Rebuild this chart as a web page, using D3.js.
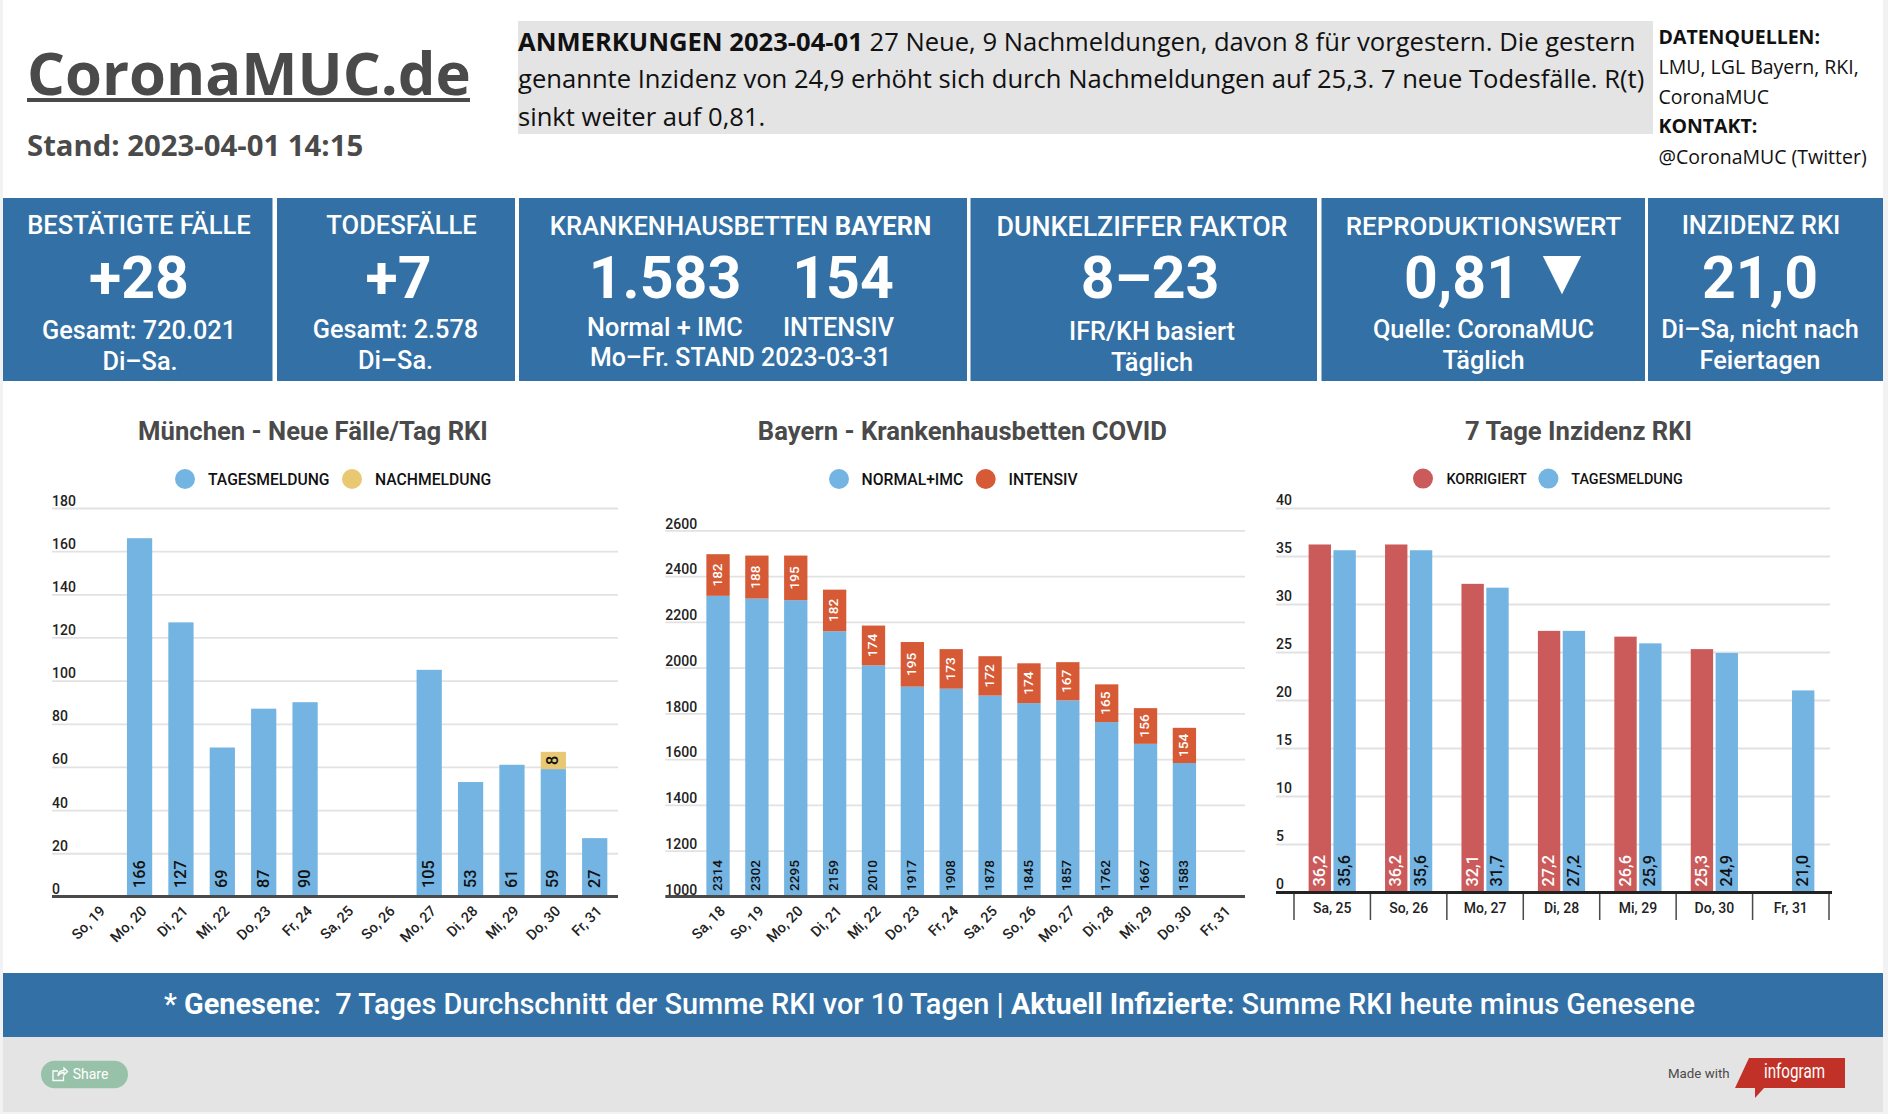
<!DOCTYPE html>
<html lang="de"><head><meta charset="utf-8"><title>CoronaMUC.de</title>
<script src="https://cdnjs.cloudflare.com/ajax/libs/d3/7.8.5/d3.min.js"></script>
<style>html,body{margin:0;padding:0;background:#f2f2f2;overflow:hidden}svg{display:block}text{font-family:Roboto,sans-serif}.os,.os tspan{font-family:"Open Sans",sans-serif}</style>
</head><body><div id="c"></div>
<script>
// ---- data ----
const muc_days = ["So, 19","Mo, 20","Di, 21","Mi, 22","Do, 23","Fr, 24","Sa, 25","So, 26","Mo, 27","Di, 28","Mi, 29","Do, 30","Fr, 31"];
const muc_tages = [null,166,127,69,87,90,null,null,105,53,61,59,27];
const muc_nach  = [null,null,null,null,null,null,null,null,null,null,null,8,null];
const muc_ticks = [0,20,40,60,80,100,120,140,160,180];
const kh_days = ["Sa, 18","So, 19","Mo, 20","Di, 21","Mi, 22","Do, 23","Fr, 24","Sa, 25","So, 26","Mo, 27","Di, 28","Mi, 29","Do, 30","Fr, 31"];
const kh_normal = [2314,2302,2295,2159,2010,1917,1908,1878,1845,1857,1762,1667,1583,null];
const kh_intensiv = [182,188,195,182,174,195,173,172,174,167,165,156,154,null];
const kh_ticks = [1000,1200,1400,1600,1800,2000,2200,2400,2600];
const inz_days = ["Sa, 25","So, 26","Mo, 27","Di, 28","Mi, 29","Do, 30","Fr, 31"];
const inz_korr = [36.2,36.2,32.1,27.2,26.6,25.3,null];
const inz_tages = [35.6,35.6,31.7,27.2,25.9,24.9,21.0];
const inz_ticks = [0,5,10,15,20,25,30,35,40];

const BLUE="#3370a5", SKY="#74b4e2", GOLD="#e8c872", ORANGE="#d65a35", RED="#cb5b5b", DARK="#4a4a4a", GRID="#e2e2e2";
const fmtDe = d => d3.format(".1f")(d).replace(".",",");

const svg = d3.select("#c").append("svg").attr("width",1888).attr("height",1114);
function T(x,y,s,o={}){
  const t=svg.append("text").attr("x",x).attr("y",y).text(s)
    .attr("font-size",o.size||14).attr("font-weight",o.weight||400)
    .attr("fill",o.fill||"#fff").attr("text-anchor",o.anchor||"middle");
  if(o.cls)t.attr("class",o.cls);
  if(o.family)t.style("font-family",o.family);
  return t;
}
function R(x,y,w,h,f){return svg.append("rect").attr("x",x).attr("y",y).attr("width",w).attr("height",h).attr("fill",f);}

// page
R(3,0,1880,1112,"#fff");

// header
T(27,95,"CoronaMUC.de",{size:59.7,weight:700,fill:DARK,anchor:"start",cls:"os"});
R(27,98,443,4,DARK);
T(27,155.5,"Stand: 2023-04-01 14:15",{size:29.3,weight:700,fill:DARK,anchor:"start",cls:"os"});
R(518,21,1135,113,"#e4e4e4");
const A=25.6;
const a1=T(518,51,"",{size:A,fill:"#111",anchor:"start",cls:"os"});
a1.append("tspan").attr("font-weight",700).text("ANMERKUNGEN 2023-04-01");
a1.append("tspan").text(" 27 Neue, 9 Nachmeldungen, davon 8 für vorgestern. Die gestern");
T(518,88,"genannte Inzidenz von 24,9 erhöht sich durch Nachmeldungen auf 25,3. 7 neue Todesfälle. R(t)",{size:A,fill:"#111",anchor:"start",cls:"os"});
T(518,126,"sinkt weiter auf 0,81.",{size:A,fill:"#111",anchor:"start",cls:"os"});
T(1658.5,44,"DATENQUELLEN:",{size:19.5,weight:700,fill:"#111",anchor:"start",cls:"os"});
T(1658.5,74,"LMU, LGL Bayern, RKI,",{size:19.5,fill:"#111",anchor:"start",cls:"os"});
T(1658.5,104,"CoronaMUC",{size:19.5,fill:"#111",anchor:"start",cls:"os"});
T(1658.5,133,"KONTAKT:",{size:19.5,weight:700,fill:"#111",anchor:"start",cls:"os"});
T(1658.5,164,"@CoronaMUC (Twitter)",{size:19.5,fill:"#111",anchor:"start",cls:"os"});

// KPI panels
[[3,272.5],[277,515],[519,967],[970.5,1317],[1321.5,1645],[1648,1883]].forEach(p=>R(p[0],198,p[1]-p[0],183,BLUE));
const H={size:25.6,weight:500}, B={size:59,weight:700}, S={size:25.3,weight:500};
T(139,234,"BESTÄTIGTE FÄLLE",H); T(139,298,"+28",B); T(139,339,"Gesamt: 720.021",S); T(140,370,"Di–Sa.",S);
T(401.5,234,"TODESFÄLLE",H); T(398.5,298,"+7",B); T(395.5,338,"Gesamt: 2.578",S); T(395.5,369,"Di–Sa.",S);
const k=T(740.5,235,"",H); k.append("tspan").text("KRANKENHAUSBETTEN "); k.append("tspan").attr("font-weight",700).text("BAYERN");
T(665,298,"1.583",B); T(843,298,"154",B);
T(665,336,"Normal + IMC",S); T(838.5,336,"INTENSIV",S); T(740.5,366,"Mo–Fr. STAND 2023-03-31",{size:24.9,weight:500});
T(1142,236,"DUNKELZIFFER FAKTOR",{size:26.8,weight:500}); T(1150,298,"8–23",B); T(1152,340,"IFR/KH basiert",S); T(1152,371,"Täglich",S);
T(1483.5,235,"REPRODUKTIONSWERT",{size:25.9,weight:500}); T(1462,298,"0,81",B);
T(1562,288,"▼",{size:50,family:"'DejaVu Sans'"});
T(1483.5,338,"Quelle: CoronaMUC",S); T(1483.5,369,"Täglich",S);
T(1761,234,"INZIDENZ RKI",H); T(1760,298,"21,0",B); T(1760,338,"Di–Sa, nicht nach",S); T(1760,369,"Feiertagen",S);

// chart helpers
function frame(title,tcx,y,ticks,x0,x1,lblDy,fmt){
  T(tcx,440,title,{size:25.65,weight:700,fill:DARK});
  const g=svg.append("g").attr("class","y-axis").attr("transform",`translate(${x0},0)`);
  const ax=d3.axisLeft(y).tickValues(ticks).tickSize(-(x1-x0)).tickFormat(fmt||d3.format("d"));
  g.call(ax);
  g.select(".domain").remove();
  g.selectAll(".tick line").attr("stroke",GRID).attr("stroke-width",d=>d==ticks[0]?0:1.8);
  g.selectAll(".tick text").attr("x",0).attr("dy",0).attr("y",lblDy).attr("text-anchor","start")
    .attr("font-size",14).attr("font-weight",500).attr("fill","#222").style("font-family","Roboto");
}
function legend(y,by,items,size){
  items.forEach(i=>{
    svg.append("ellipse").attr("cx",i.cx).attr("cy",y).attr("rx",10).attr("ry",10).attr("fill",i.c);
    T(i.tx,by,i.t,{size,weight:500,fill:"#111",anchor:"start"});
  });
}
function vlabel(x,y,s,o){
  svg.append("text").attr("transform",`translate(${x},${y}) rotate(-90)`)
   .attr("text-anchor",o.anchor||"start").attr("dominant-baseline","middle")
   .attr("font-size",o.size).attr("font-weight",o.weight||500).attr("fill",o.fill).text(s);
}
function slantAxis(x,axisY){
  const g=svg.append("g").attr("transform",`translate(0,${axisY})`).call(d3.axisBottom(x).tickSize(0));
  g.select(".domain").remove();
  g.selectAll(".tick text").attr("text-anchor","end").attr("font-size",14.5).attr("font-weight",500).attr("fill","#222").style("font-family","Roboto")
    .attr("x",0).attr("y",0).attr("dy",0)
    .attr("transform","translate(8,16) rotate(-45)");
}

// Chart 1
{
  const y=d3.scaleLinear().domain([0,180]).range([896.4,508]);
  const x=d3.scaleBand().domain(muc_days).range([77.5,615.4]).paddingInner(0.39).paddingOuter(0.195);
  frame("München - Neue Fälle/Tag RKI",313,y,muc_ticks,52,618,-3);
  legend(479,485,[{cx:185,tx:208,t:"TAGESMELDUNG",c:SKY},{cx:352,tx:375,t:"NACHMELDUNG",c:GOLD}],15.7);
  muc_days.forEach((d,i)=>{
    const v=muc_tages[i], n=muc_nach[i];
    if(v==null)return;
    const cx=x(d)+x.bandwidth()/2+0.7;
    R(x(d),y(v),x.bandwidth(),y(0)-y(v),SKY);
    if(n!=null)R(x(d),y(v+n),x.bandwidth(),y(v)-y(v+n),GOLD);
    vlabel(cx,888,v,{size:16.3,fill:"#111"});
    if(n!=null)vlabel(cx,(y(v)+y(v+n))/2,n,{size:16.3,fill:"#111",anchor:"middle"});
  });
  R(52,895,566,3,DARK);
  slantAxis(x,896);
}
// Chart 2
{
  const y=d3.scaleLinear().domain([1000,2600]).range([896.4,530.4]);
  const x=d3.scaleBand().domain(kh_days).range([698.6,1242.7]).paddingInner(0.4).paddingOuter(0.2);
  frame("Bayern - Krankenhausbetten COVID",962.4,y,kh_ticks,665.3,1245,-2.4);
  legend(479,485,[{cx:839,tx:861.6,t:"NORMAL+IMC",c:SKY},{cx:985.7,tx:1008.6,t:"INTENSIV",c:ORANGE}],15.7);
  kh_days.forEach((d,i)=>{
    const v=kh_normal[i], n=kh_intensiv[i];
    if(v==null)return;
    const cx=x(d)+x.bandwidth()/2;
    R(x(d),y(v),x.bandwidth(),y(1000)-y(v),SKY);
    R(x(d),y(v+n),x.bandwidth(),y(v)-y(v+n),ORANGE);
    vlabel(cx,891,v,{size:13.6,fill:"#111"});
    vlabel(cx,(y(v)+y(v+n))/2,n,{size:13.6,fill:"#fff",anchor:"middle"});
  });
  R(665.3,895,579.7,3,DARK);
  slantAxis(x,896);
}
// Chart 3
{
  const y=d3.scaleLinear().domain([0,40]).range([892,508]);
  const x=d3.scaleBand().domain(inz_days).range([1294,1829]);
  const x1=d3.scaleBand().domain(["k","t"]).range([x.bandwidth()/2-23.6,x.bandwidth()/2+23.6]).paddingInner(0.1);
  frame("7 Tage Inzidenz RKI",1578.6,y,inz_ticks,1276,1830,-4);
  legend(478.6,484,[{cx:1423,tx:1446.4,t:"KORRIGIERT",c:RED},{cx:1548.4,tx:1571.3,t:"TAGESMELDUNG",c:SKY}],14.4);
  inz_days.forEach((d,i)=>{
    [["k",inz_korr[i],RED,"#fff"],["t",inz_tages[i],SKY,"#111"]].forEach(([s,v,c,tc])=>{
      if(v==null)return;
      R(x(d)+x1(s),y(v),x1.bandwidth(),y(0)-y(v),c);
      vlabel(x(d)+x1(s)+x1.bandwidth()/2+0.7,886.5,fmtDe(v),{size:16.3,fill:tc});
    });
  });
  const g=svg.append("g").attr("transform","translate(0,892)").call(d3.axisBottom(x).tickSize(0));
  g.select(".domain").remove();
  g.selectAll(".tick text").attr("y",20.5).attr("dy",0).attr("font-size",14).attr("font-weight",500).attr("fill","#222").style("font-family","Roboto");
  x.domain().concat([null]).forEach(d=>{
    const px=d==null?x.range()[1]:x(d);
    R(px-0.75,892,1.5,28,DARK);
  });
  R(1276,891,556,3,"#222");
}

// footer
R(3,973,1880,64,BLUE);
const ft=T(929.5,1013.5,"",{size:28.9,weight:500});
ft.append("tspan").text("* ");
ft.append("tspan").attr("font-weight",700).text("Genesene");
ft.append("tspan").attr("xml:space","preserve").text(":  7 Tages Durchschnitt der Summe RKI vor 10 Tagen | ");
ft.append("tspan").attr("font-weight",700).text("Aktuell Infizierte");
ft.append("tspan").text(": Summe RKI heute minus Genesene");
R(3,1037,1880,75,"#e4e4e4");
R(41,1060.7,87,27.5,"#97c2a9").attr("rx",13.7);
svg.append("path").attr("d","M58 1071 h-5 v9.5 h10.5 v-4 M58 1076 c0-4 3-5.5 6-5.5 v-2.5 l3.5 3.5 l-3.5 3.5 v-2.5 c-3 0-4.5 1-6 3.5")
  .attr("fill","none").attr("stroke","#fff").attr("stroke-width",1.3);
T(72.7,1079,"Share",{size:14,fill:"#fff",anchor:"start"});
T(1668,1078,"Made with",{size:13.3,fill:DARK,anchor:"start"});
svg.append("path").attr("d","M1749 1058 H1845 V1088 H1764 L1755 1098 V1088 H1735 Z").attr("fill","#c23127");
T(1764,1078,"infogram",{size:20,fill:"#fff",anchor:"start"}).attr("textLength",61).attr("lengthAdjust","spacingAndGlyphs");
</script></body></html>
